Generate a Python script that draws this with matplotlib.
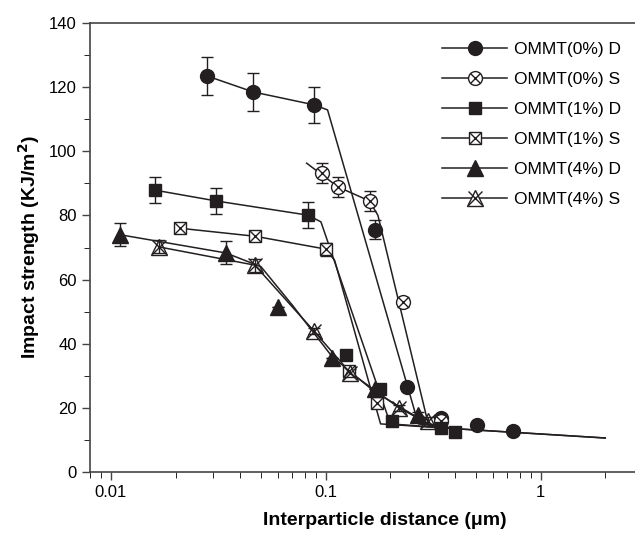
import numpy as np
import matplotlib.pyplot as plt
from matplotlib.legend_handler import HandlerTuple

plt.rcParams['font.family'] = ['Liberation Sans', 'DejaVu Sans']

# measured points
d0_x = [0.028, 0.046, 0.088, 0.17, 0.24, 0.343, 0.504, 0.741]
d0_y = [123.5, 118.5, 114.5, 75.5, 26.5, 16.8, 14.7, 12.8]
d0_e = [6.0, 6.0, 5.6, 3.0, 1.0, 1.0, 1.0, 1.0]

s0_x = [0.096, 0.114, 0.16, 0.23, 0.343]
s0_y = [93.2, 88.9, 84.5, 53.0, 16.0]
s0_e = [3.0, 3.0, 3.0, 1.5, 1.0]

d1_x = [0.016, 0.031, 0.0825, 0.124, 0.178, 0.203, 0.343, 0.398]
d1_y = [87.9, 84.5, 80.1, 36.5, 25.9, 16.0, 13.7, 12.5]
d1_e = [4.0, 4.0, 4.0, 1.0, 1.0, 1.0, 1.0, 1.0]

s1_x = [0.021, 0.047, 0.1, 0.129, 0.174]
s1_y = [76.0, 73.5, 69.5, 31.5, 21.5]
s1_e = [1.5, 1.5, 2.0, 1.0, 1.0]

d4_x = [0.011, 0.0343, 0.06, 0.107, 0.169, 0.268]
d4_y = [74.0, 68.3, 51.5, 35.5, 25.9, 17.8]
d4_e = [3.5, 3.6, 0.0, 0.0, 0.0, 1.0]

s4_x = [0.0167, 0.0468, 0.088, 0.13, 0.22, 0.3]
s4_y = [70.2, 64.5, 44.0, 31.0, 20.0, 16.0]
s4_e = [2.0, 2.0, 1.0, 1.0, 1.0, 1.0]

# fitted curves
fd0_x = [0.028, 0.046, 0.088, 0.102, 0.27, 0.4, 2.0]
fd0_y = [123.5, 118.5, 114.5, 112.9, 15.0, 13.5, 10.6]
fs0_x = [0.0815, 0.114, 0.16, 0.175, 0.3, 0.4, 2.0]
fs0_y = [96.3, 88.9, 84.5, 80.0, 15.0, 13.5, 10.6]
fd1_x = [0.016, 0.031, 0.0825, 0.095, 0.2, 0.4]
fd1_y = [87.9, 84.5, 80.1, 78.0, 15.0, 13.5]
fs1_x = [0.021, 0.047, 0.1, 0.11, 0.18, 0.4]
fs1_y = [76.0, 73.5, 69.5, 66.0, 15.0, 13.5]
fd4_x = [0.011, 0.0343, 0.05, 0.07, 0.107, 0.169, 0.3]
fd4_y = [74.0, 68.3, 64.0, 52.0, 36.0, 25.0, 15.0]
fs4_x = [0.0167, 0.0468, 0.088, 0.13, 0.22, 0.3]
fs4_y = [70.2, 64.5, 44.0, 31.0, 20.0, 15.0]

labels = ['OMMT(0%) D', 'OMMT(0%) S', 'OMMT(1%) D', 'OMMT(1%) S', 'OMMT(4%) D', 'OMMT(4%) S']

fig = plt.figure(figsize=(6.35, 5.39), dpi=100)
ax = fig.add_axes([90 / 635, 67 / 539, 545 / 635, 449 / 539])

k = '#231f20'
lw = 1.1

for fx, fy in [(fd0_x, fd0_y), (fs0_x, fs0_y), (fd1_x, fd1_y),
               (fs1_x, fs1_y), (fd4_x, fd4_y), (fs4_x, fs4_y)]:
    ax.plot(fx, fy, color=k, lw=lw, zorder=2)

ebkw = dict(fmt='none', ecolor=k, elinewidth=1.0, capsize=4, capthick=1.0, zorder=3)
for x, y, e in [(d0_x, d0_y, d0_e), (s0_x, s0_y, s0_e), (d1_x, d1_y, d1_e),
                (s1_x, s1_y, s1_e), (d4_x, d4_y, d4_e), (s4_x, s4_y, s4_e)]:
    ax.errorbar(x, y, yerr=e, **ebkw)

ax.plot(d0_x, d0_y, 'o', color=k, ms=10, ls='none', zorder=4)
ax.plot(s0_x, s0_y, 'o', mfc='white', mec=k, mew=1.0, ms=10, ls='none', zorder=4)
ax.plot(s0_x, s0_y, 'x', color=k, mew=1.0, ms=7, ls='none', zorder=5)
ax.plot(d1_x, d1_y, 's', color=k, ms=9, ls='none', zorder=4)
ax.plot(s1_x, s1_y, 's', mfc='white', mec=k, mew=1.0, ms=8, ls='none', zorder=4)
ax.plot(s1_x, s1_y, 'x', color=k, mew=1.0, ms=8, ls='none', zorder=5)
ax.plot(d4_x, d4_y, '^', color=k, ms=11, ls='none', zorder=4)
ax.plot(s4_x, s4_y, '^', mfc='none', mec=k, mew=1.0, ms=11, ls='none', zorder=4)
ax.plot(s4_x, s4_y, 'x', color=k, mew=1.0, ms=10, ls='none', zorder=5)

# legend handles
h = []
h.append(plt.Line2D([], [], color=k, lw=lw, marker='o', ms=10))
h.append((plt.Line2D([], [], color=k, lw=lw, marker='o', mfc='white', mec=k, ms=10),
          plt.Line2D([], [], color=k, lw=0, marker='x', ms=7)))
h.append(plt.Line2D([], [], color=k, lw=lw, marker='s', ms=9))
h.append((plt.Line2D([], [], color=k, lw=lw, marker='s', mfc='white', mec=k, ms=8),
          plt.Line2D([], [], color=k, lw=0, marker='x', ms=8)))
h.append(plt.Line2D([], [], color=k, lw=lw, marker='^', ms=11))
h.append((plt.Line2D([], [], color=k, lw=lw, marker='^', mfc='white', mec=k, ms=11),
          plt.Line2D([], [], color=k, lw=0, marker='x', ms=10)))
ax.legend(h, labels, handler_map={tuple: HandlerTuple(ndivide=1)},
          loc='upper left', bbox_to_anchor=(0.618, 0.993), frameon=False,
          fontsize=12.5, handlelength=3.7, handletextpad=0.45, labelspacing=0.86)

ax.set_xscale('log')
ax.set_xlim(0.008, 2.75)
ax.set_ylim(0, 140)
ax.set_yticks(range(0, 141, 20))
ax.set_yticks(range(10, 140, 20), minor=True)
ax.set_xticks([0.01, 0.1, 1])
ax.set_xticklabels(['0.01', '0.1', '1'])
ax.tick_params(direction='out', labelsize=12, color='#444444', width=1.0)
ax.tick_params(which='major', length=6)
ax.tick_params(which='minor', length=4)
for s in ['left', 'bottom', 'top']:
    ax.spines[s].set_color('#444444')
    ax.spines[s].set_linewidth(1.2)
ax.spines['right'].set_visible(False)

ax.set_xlabel('Interparticle distance (\u03bcm)', fontsize=14, fontweight='bold')
ax.xaxis.set_label_coords((385 - 90) / 545, -0.09)
ax.set_ylabel('Impact strength (KJ/m$^\\mathbf{2}$)', fontsize=14, fontweight='bold', labelpad=5)

fig.savefig('out.png', dpi=100)
